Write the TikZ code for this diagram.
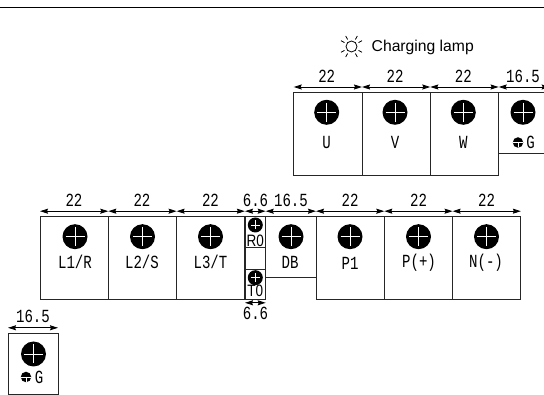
\documentclass[tikz,border=0pt]{standalone}
\usepackage{fontspec}
\setmainfont{Liberation Sans}
\newfontfamily\gothic[FakeStretch=0.76]{Liberation Mono}
\newfontfamily\gothicsans[FakeStretch=0.82]{Liberation Sans}
\usetikzlibrary{arrows.meta}
\begin{document}
\begin{tikzpicture}[x=1pt,y=-1pt,
  term/.style={draw=black!85,line width=1pt,rectangle,anchor=north west,inner sep=0pt,outer sep=0pt,minimum width=68.3pt,minimum height=82.6pt},
  screw/.style={circle,fill=black,inner sep=0pt,minimum size=25pt,
    path picture={
      \draw[white,line width=.6pt,shorten <=3pt,shorten >=3pt] (path picture bounding box.west) -- (path picture bounding box.east);
      \draw[white,line width=.6pt,shorten <=3pt,shorten >=3pt] (path picture bounding box.north) -- (path picture bounding box.south);
    }},
  smallscrew/.style={screw,minimum size=15pt},
  earth/.style={circle,fill=black,inner sep=0pt,minimum size=10.5pt,
    path picture={
      \draw[white,line width=.9pt] (path picture bounding box.west) -- (path picture bounding box.east);
      \draw[white,line width=.6pt] (path picture bounding box.center) -- (path picture bounding box.south);
    }},
  dim/.style={{Stealth[length=8pt,width=5pt,inset=1pt]}-{Stealth[length=8pt,width=5pt,inset=1pt]},line width=.9pt},
  lab/.style={font=\gothic\fontsize{18.5}{18.5}\selectfont,inner sep=0pt},
  smalllab/.style={font=\gothicsans\fontsize{16.5}{16.5}\selectfont,inner sep=0pt}]
\clip (0,0) rectangle (544,395);
\useasboundingbox (0,0) rectangle (544,395);
\node[draw,line width=1.3pt,minimum width=548pt,minimum height=0pt,inner sep=0pt] (rule) at (272,7.5) {};
% charging lamp
\node[circle,draw,line width=.8pt,inner sep=0pt,minimum size=11pt] (lamp) at (351.5,46.5) {};
\foreach \a in {45,135,225,315}{
  \draw[line width=.8pt] ([shift={(\a-16:8)}]lamp.center) -- ([shift={(\a-16:12)}]lamp.center);
  \draw[line width=.8pt] ([shift={(\a+16:8)}]lamp.center) -- ([shift={(\a+16:12)}]lamp.center);
}
\node[anchor=west,inner sep=0pt,font=\fontsize{15.7}{15.7}\selectfont] (lamptext) at (371.5,47) {Charging lamp};
% output terminals
\node[term] (U) at (293.7,93) {};
\node[term] (V) at (362,93) {};
\node[term] (W) at (430.3,93) {};
\node[term,minimum width=51pt,minimum height=60.5pt] (GA) at (498.7,93) {};
\node[screw] (sU) at (326.7,112.3) {};
\node[screw] (sV) at (395,112.3) {};
\node[screw] (sW) at (463.3,112.3) {};
\node[screw] (sGA) at (523,112.3) {};
\node[lab] (lU) at (326.7,142.5) {U};
\node[lab] (lV) at (395,142.5) {V};
\node[lab] (lW) at (463.3,142.5) {W};
\node[earth] (eGA) at (518,142.5) {};
\node[lab] (lGA) at (530.5,142.5) {G};
\draw[dim] ([yshift=6pt]U.north west) -- ([yshift=6pt]U.north east);
\draw[dim] ([yshift=6pt]V.north west) -- ([yshift=6pt]V.north east);
\draw[dim] ([yshift=6pt]W.north west) -- ([yshift=6pt]W.north east);
\draw[dim] ([yshift=6pt]GA.north west) -- ([yshift=6pt]GA.north east);
\node[lab] (dU) at (326.7,76.5) {22};
\node[lab] (dV) at (395,76.5) {22};
\node[lab] (dW) at (463.3,76.5) {22};
\node[lab] (dGA) at (523,76.5) {16.5};
% main circuit terminals
\node[term] (L1) at (40,216.7) {};
\node[term] (L2) at (108.3,216.7) {};
\node[term] (L3) at (176.6,216.7) {};
\node[term,minimum width=20.7pt,minimum height=30.6pt] (R0) at (245,216.7) {};
\node[term,minimum width=20.7pt,minimum height=82.6pt] (mid) at (245,216.7) {};
\node[term,minimum width=20.7pt,minimum height=30pt] (T0) at (245,269.3) {};
\node[term,minimum width=50.3pt,minimum height=61pt] (DB) at (265.7,216.7) {};
\node[term] (P1) at (316,216.7) {};
\node[term] (P) at (384.3,216.7) {};
\node[term] (N) at (452.6,216.7) {};
\node[screw] (sL1) at (75,236.7) {};
\node[screw] (sL2) at (142.5,236.7) {};
\node[screw] (sL3) at (210.5,236.7) {};
\node[smallscrew] (sR0) at (255.3,225) {};
\node[smallscrew] (sT0) at (255.3,277.7) {};
\node[screw] (sDB) at (291,236.7) {};
\node[screw] (sP1) at (350,236.7) {};
\node[screw] (sP) at (418.5,236.7) {};
\node[screw] (sN) at (486.5,236.7) {};
\node[lab] (lL1) at (75,262) {L1/R};
\node[lab] (lL2) at (142,262) {L2/S};
\node[lab] (lL3) at (210.5,262) {L3/T};
\node[smalllab] (lR0) at (255.3,240.5) {R0};
\node[smalllab] (lT0) at (255.3,291) {T0};
\node[lab] (lDB) at (290,262) {DB};
\node[lab] (lP1) at (350,263) {P1};
\node[lab] (lP) at (419,263) {P(+)};
\node[lab] (lN) at (486,263) {N(-)};
\draw[dim] ([yshift=5.5pt]L1.north west) -- ([yshift=5.5pt]L1.north east);
\draw[dim] ([yshift=5.5pt]L2.north west) -- ([yshift=5.5pt]L2.north east);
\draw[dim] ([yshift=5.5pt]L3.north west) -- ([yshift=5.5pt]L3.north east);
\draw[dim] ([yshift=5.5pt]R0.north west) -- ([yshift=5.5pt]R0.north east);
\draw[dim] ([yshift=5.5pt]DB.north west) -- ([yshift=5.5pt]DB.north east);
\draw[dim] ([yshift=5.5pt]P1.north west) -- ([yshift=5.5pt]P1.north east);
\draw[dim] ([yshift=5.5pt]P.north west) -- ([yshift=5.5pt]P.north east);
\draw[dim] ([yshift=5.5pt]N.north west) -- ([yshift=5.5pt]N.north east);
\draw[dim] ([yshift=-3.5pt]T0.south west) -- ([yshift=-3.5pt]T0.south east);
\node[lab] (dL1) at (74,200.7) {22};
\node[lab] (dL2) at (142,200.7) {22};
\node[lab] (dL3) at (210.5,200.7) {22};
\node[lab] (dR0) at (255.5,200.7) {6.6};
\node[lab] (dDB) at (291,200.7) {16.5};
\node[lab] (dP1) at (350,200.7) {22};
\node[lab] (dP) at (418.5,200.7) {22};
\node[lab] (dN) at (486.5,200.7) {22};
\node[lab] (dT0) at (255.5,313) {6.6};
% earth terminal
\node[term,minimum width=50pt,minimum height=61pt] (GB) at (8,333.3) {};
\node[screw] (sGB) at (33.5,354) {};
\node[earth] (eGB) at (26,377) {};
\node[lab] (lGB) at (39,377) {G};
\draw[dim] ([yshift=5.5pt]GB.north west) -- ([yshift=5.5pt]GB.north east);
\node[lab] (dGB) at (33,316.7) {16.5};
\end{tikzpicture}
\end{document}
